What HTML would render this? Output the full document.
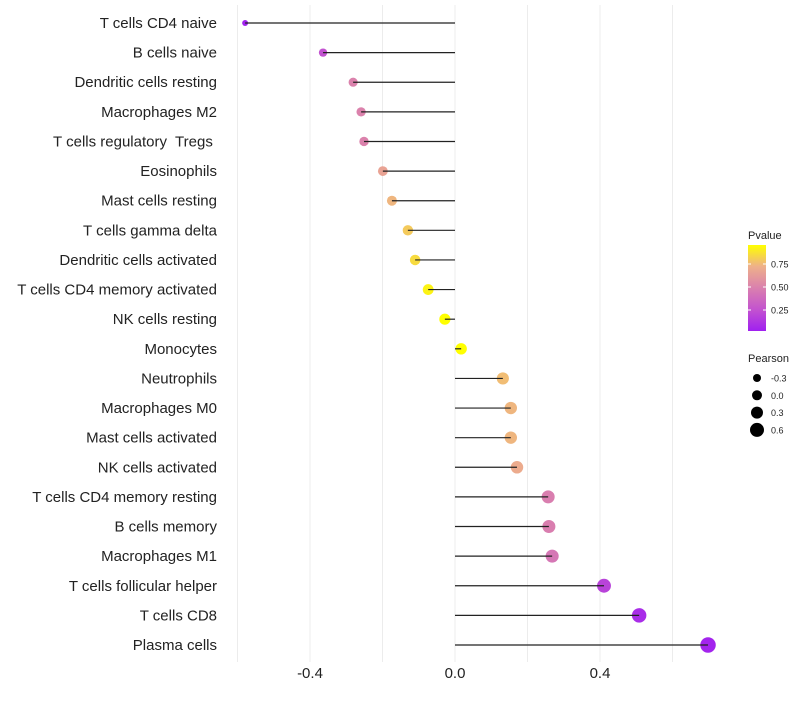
<!DOCTYPE html>
<html><head><meta charset="utf-8"><style>
body{margin:0;background:#fff;font-family:"Liberation Sans",sans-serif}
svg text{font-family:"Liberation Sans",sans-serif;white-space:pre}
</style></head><body>
<svg id="c" width="800" height="700"></svg>
<script>
const categories=["T cells CD4 naive","B cells naive","Dendritic cells resting","Macrophages M2","T cells regulatory  Tregs ","Eosinophils","Mast cells resting","T cells gamma delta","Dendritic cells activated","T cells CD4 memory activated","NK cells resting","Monocytes","Neutrophils","Macrophages M0","Mast cells activated","NK cells activated","T cells CD4 memory resting","B cells memory","Macrophages M1","T cells follicular helper","T cells CD8","Plasma cells"];
const pearson=[-0.579,-0.364,-0.281,-0.259,-0.251,-0.199,-0.174,-0.130,-0.110,-0.074,-0.028,0.017,0.132,0.154,0.154,0.171,0.257,0.259,0.268,0.411,0.508,0.698];
const pvalue=[0.03,0.25,0.5,0.5,0.5,0.66,0.74,0.8,0.85,0.92,0.956,0.956,0.76,0.74,0.74,0.7,0.48,0.48,0.44,0.18,0.08,0.04];
const xTicks=[-0.4,0,0.4];
const xGrid=[-0.6,-0.4,-0.2,0,0.2,0.4,0.6];
const pTicks=[0.25,0.5,0.75];
const sizeTicks=[-0.3,0,0.3,0.6];

const NS="http://www.w3.org/2000/svg",svg=document.getElementById('c');
function el(t,a,p){const e=document.createElementNS(NS,t);for(const k in a)e.setAttribute(k,a[k]);(p||svg).appendChild(e);return e;}
const x=v=>455+v*362.5;
const y=i=>23+i*(622/21);
const rad=v=>Math.sqrt(Math.max(3.5,32+40*v));
const pMin=0.02,pMax=0.956;
const stops=[[160,32,240],[195,83,207],[218,128,174],[238,176,138],[255,255,0]];
function col(p){let t=(p-pMin)/(pMax-pMin);t=Math.max(0,Math.min(1,t))*4;const i=Math.min(3,Math.floor(t)),f=t-i;const a=stops[i],b=stops[i+1];return `rgb(${a.map((c,k)=>Math.round(c+(b[k]-c)*f)).join(',')})`;}

xGrid.forEach(g=>{const l=el('line',{x1:x(g),x2:x(g),y1:5,y2:662,stroke:'#ececec','stroke-width':1});

});
xTicks.forEach(t=>{const e=el('text',{x:x(t),y:678,'text-anchor':'middle','font-size':15,fill:'#222'});e.textContent=t.toFixed(1);

});
categories.forEach((c,i)=>{
const t=el('text',{x:217,y:y(i)+5,'text-anchor':'end','font-size':15,fill:'#222'});t.textContent=c;


const d=el('circle',{cx:x(pearson[i]),cy:y(i),r:rad(pearson[i]),fill:col(pvalue[i])});


const l=el('line',{x1:x(0),x2:x(pearson[i]),y1:y(i),y2:y(i),stroke:'#222','stroke-width':1.2});


});
const defs=el('defs',{});const lg=el('linearGradient',{id:'g',x1:0,y1:1,x2:0,y2:0},defs);
stops.forEach((s,i)=>el('stop',{offset:i/4,'stop-color':`rgb(${s.join(',')})`},lg));
let tt=el('text',{x:748,y:239,'font-size':11,fill:'#222'});tt.textContent='Pvalue';


const cb=el('rect',{x:748,y:245,width:18,height:86,fill:'url(#g)'});


const py=p=>333-p*92;
pTicks.forEach(p=>{el('line',{x1:748,x2:751,y1:py(p),y2:py(p),stroke:'#fff'});el('line',{x1:763,x2:766,y1:py(p),y2:py(p),stroke:'#fff'});
const e=el('text',{x:771,y:py(p)+3.5,'font-size':9,fill:'#222'});e.textContent=p.toFixed(2);

});
tt=el('text',{x:748,y:362,'font-size':11,fill:'#222'});tt.textContent='Pearson';


sizeTicks.forEach((s,i)=>{const cy=378+i*17.3;const r=4+i;
const c=el('circle',{cx:757,cy:cy,r:r,fill:'#000'});


const e=el('text',{x:771,y:cy+3.5,'font-size':9,fill:'#222'});e.textContent=s.toFixed(1);

});
</script>
</body></html>
